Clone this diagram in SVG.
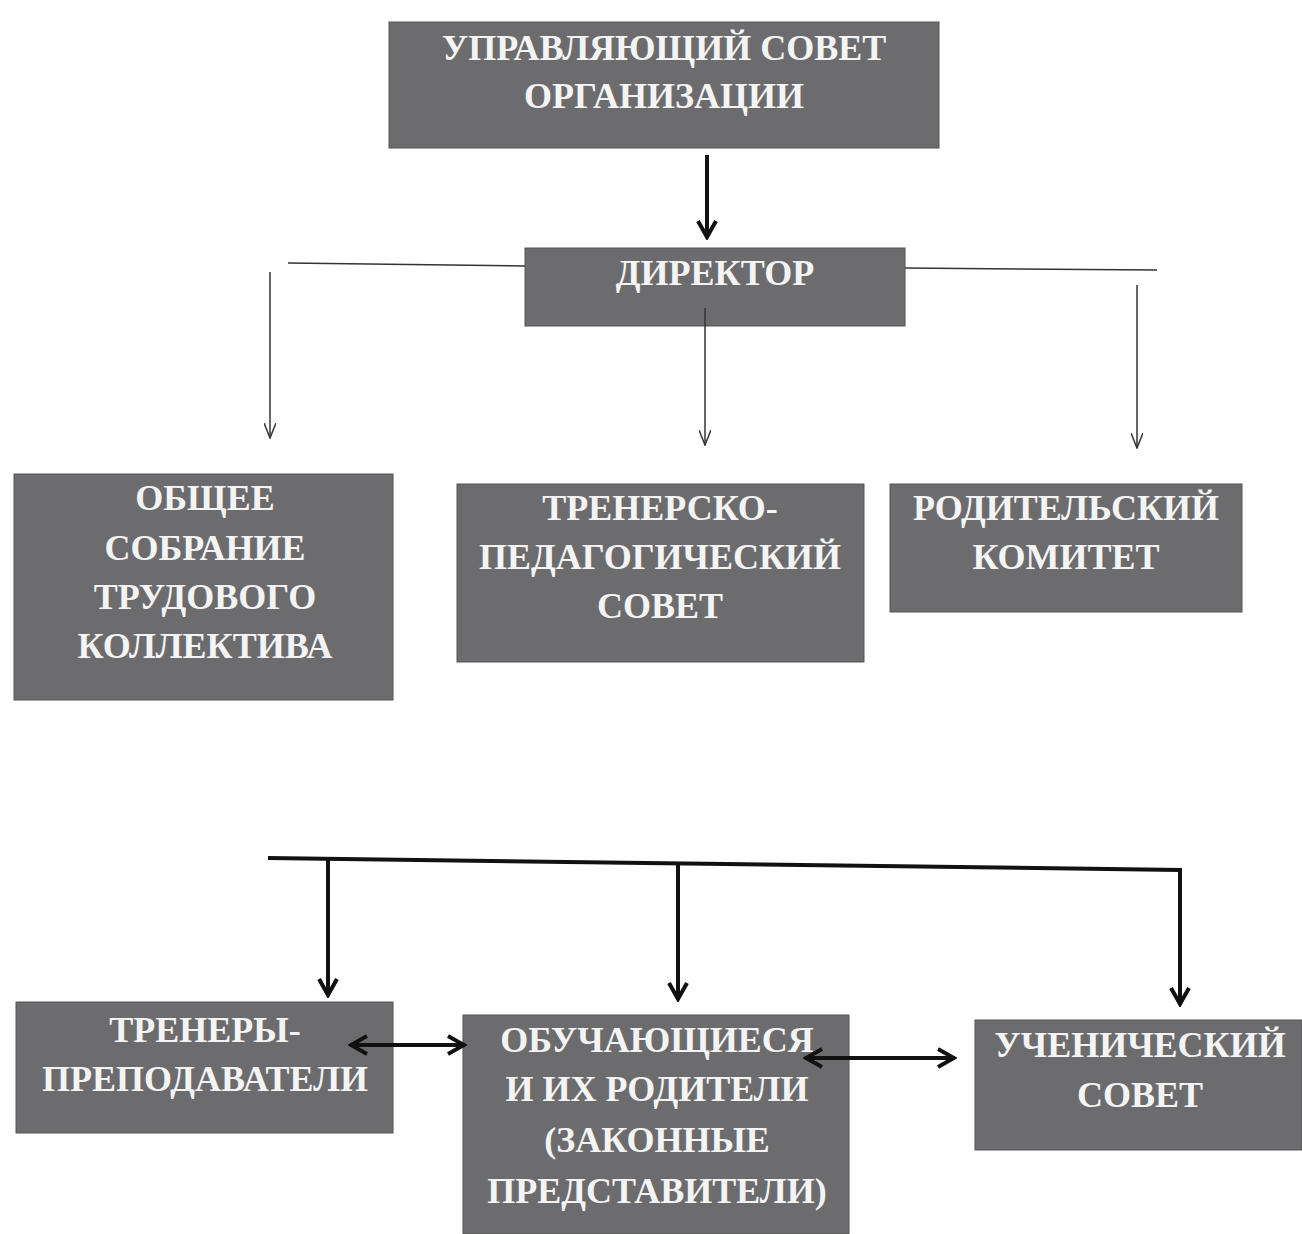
<svg xmlns="http://www.w3.org/2000/svg" width="1302" height="1234" viewBox="0 0 1302 1234">
<style>
.box{fill:#6c6c6e;stroke:#555;stroke-width:1}
.t{font-family:"Liberation Serif","Times New Roman",serif;font-weight:bold;font-size:36px;fill:#f4f4f4;text-anchor:middle}
.thin{stroke:#333;stroke-width:1.5;fill:none}
.thick{stroke:#111;stroke-width:4;fill:none}
</style>
<defs>
<marker id="ah" viewBox="0 0 16 12" refX="15" refY="6" markerWidth="16" markerHeight="12" markerUnits="userSpaceOnUse" orient="auto">
<path d="M0 0 L15 6 L0 12" fill="none" stroke="#333" stroke-width="1.5"/>
</marker>
<marker id="ahb" viewBox="0 0 22 22" refX="20" refY="11" markerWidth="22" markerHeight="22" markerUnits="userSpaceOnUse" orient="auto-start-reverse">
<path d="M3 2 L19 11 L3 20" fill="none" stroke="#111" stroke-width="4"/>
</marker>
</defs>
<g id="node-council">
<rect class="box" x="389" y="22" width="550" height="126"/>
<text class="t" x="664" y="60">УПРАВЛЯЮЩИЙ СОВЕТ</text>
<text class="t" x="664" y="108">ОРГАНИЗАЦИИ</text>
</g>
<g id="node-director">
<rect class="box" x="525" y="248" width="380" height="78"/>
<text class="t" x="715" y="285">ДИРЕКТОР</text>
</g>
<g id="node-general-meeting">
<rect class="box" x="14" y="474" width="379" height="226"/>
<text class="t" x="205" y="510">ОБЩЕЕ</text>
<text class="t" x="205" y="560">СОБРАНИЕ</text>
<text class="t" x="205" y="609">ТРУДОВОГО</text>
<text class="t" x="205" y="658">КОЛЛЕКТИВА</text>
</g>
<g id="node-ped-council">
<rect class="box" x="457" y="484" width="407" height="178"/>
<text class="t" x="660" y="520">ТРЕНЕРСКО-</text>
<text class="t" x="660" y="569">ПЕДАГОГИЧЕСКИЙ</text>
<text class="t" x="660" y="618">СОВЕТ</text>
</g>
<g id="node-parent-committee">
<rect class="box" x="890" y="484" width="352" height="128"/>
<text class="t" x="1066" y="520">РОДИТЕЛЬСКИЙ</text>
<text class="t" x="1066" y="569">КОМИТЕТ</text>
</g>
<g id="node-coaches">
<rect class="box" x="16" y="1002" width="377" height="131"/>
<text class="t" x="205" y="1042">ТРЕНЕРЫ-</text>
<text class="t" x="205" y="1091">ПРЕПОДАВАТЕЛИ</text>
</g>
<g id="node-students">
<rect class="box" x="463" y="1015" width="386" height="219"/>
<text class="t" x="657" y="1052">ОБУЧАЮЩИЕСЯ</text>
<text class="t" x="657" y="1101">И ИХ РОДИТЕЛИ</text>
<text class="t" x="657" y="1152">(ЗАКОННЫЕ</text>
<text class="t" x="657" y="1203">ПРЕДСТАВИТЕЛИ)</text>
</g>
<g id="node-student-council">
<rect class="box" x="975" y="1020" width="327" height="130"/>
<text class="t" x="1140" y="1057">УЧЕНИЧЕСКИЙ</text>
<text class="t" x="1140" y="1107">СОВЕТ</text>
</g>
<g id="connectors">
<line class="thick" x1="707" y1="155" x2="707" y2="238" marker-end="url(#ahb)"/>
<line class="thin" x1="288" y1="263" x2="525" y2="266"/>
<line class="thin" x1="905" y1="268" x2="1157" y2="270"/>
<line class="thin" x1="270" y1="272" x2="270" y2="438" marker-end="url(#ah)"/>
<line class="thin" x1="705" y1="308" x2="705" y2="445" marker-end="url(#ah)"/>
<line class="thin" x1="1137" y1="285" x2="1137" y2="448" marker-end="url(#ah)"/>
<polyline class="thick" points="268,858 1180,870 1180,1005" marker-end="url(#ahb)"/>
<line class="thick" x1="328" y1="860" x2="328" y2="996" marker-end="url(#ahb)"/>
<line class="thick" x1="678" y1="864" x2="678" y2="1000" marker-end="url(#ahb)"/>
<line class="thick" x1="350" y1="1045" x2="465" y2="1045" marker-start="url(#ahb)" marker-end="url(#ahb)"/>
<line class="thick" x1="805" y1="1058" x2="955" y2="1058" marker-start="url(#ahb)" marker-end="url(#ahb)"/>
</g>
</svg>
